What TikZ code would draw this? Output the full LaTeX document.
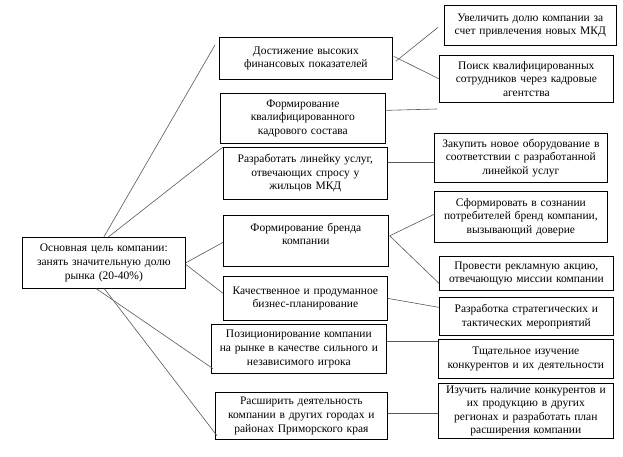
\documentclass[tikz,border=0pt]{standalone}
\usepackage{fontspec}
\setmainfont{Liberation Serif}
\usetikzlibrary{calc}
\tikzset{
  box/.style={draw=black, line width=0.7pt, rectangle, anchor=north west, inner xsep=2pt, inner ysep=0pt,
    align=center, font=\fontsize{11.5}{13.6}\selectfont},
  conn/.style={draw=black!65, line width=0.6pt}
}
\newcommand{\bx}[7]{\node[box, minimum width=#4pt, minimum height=#5pt, text width=#6pt] (#1) at (#2,#3) {#7};}
\begin{document}
\begin{tikzpicture}[x=1pt,y=-1pt]
\useasboundingbox[fill=white] (0,0) rectangle (623,456);
% main
\bx{M}{22}{237}{163}{51}{159}{Основная цель компании:\\занять значительную долю\\рынка (20-40\%)}
% middle column
\bx{B1}{219}{37}{173}{42}{169}{Достижение высоких\\финансовых показателей}
\bx{B2}{220}{93}{165}{50}{161}{Формирование\\квалифицированного\\кадрового состава}
\bx{B3}{223}{147}{164}{52}{160}{Разработать линейку услуг,\\отвечающих спросу у\\жильцов МКД}
\bx{B4}{223}{215}{165}{51}{161}{Формирование бренда\\компании\\~}
\bx{B5}{223}{276}{164}{44}{160}{Качественное и продуманное\\бизнес-планирование}
\bx{B6}{211}{324}{175}{49}{171}{Позиционирование компании\\на рынке в качестве сильного и\\независимого игрока}
\bx{B7}{215}{392}{172}{47}{168}{Расширить деятельность\\компании в других городах и\\районах Приморского края}
% right column
\bx{R1}{444}{5}{172}{40}{168}{Увеличить долю компании за\\счет привлечения новых МКД}
\bx{R2}{439}{55}{174}{47}{170}{Поиск квалифицированных\\сотрудников через кадровые\\агентства}
\bx{R3}{434}{133}{173}{49}{169}{Закупить новое оборудование в\\соответствии с разработанной\\линейкой услуг}
\bx{R4}{434}{191}{173}{51}{169}{Сформировать в сознании\\потребителей бренд компании,\\вызывающий доверие}
\bx{R5}{439}{256}{174}{34}{170}{Провести рекламную акцию,\\отвечающую миссии компании}
\bx{R6}{439}{297}{174}{38}{170}{Разработка стратегических и\\тактических мероприятий}
\bx{R7}{438}{339}{175}{39}{171}{Тщательное изучение\\конкурентов и их деятельности}
\bx{R8}{438}{383}{175}{55}{171}{Изучить наличие конкурентов и\\их продукцию в других\\регионах и разработать план\\расширения компании}
\coordinate (D2) at (437,109);
% left connectors
\draw[conn] (M.north) -- ($(B1.north west)+(-4,8)$);
\draw[conn] ($(M.north)+(4.5,0)$) -- (B3.north west);
\draw[conn] (M.east) -- ($(B4.west)+(0,1.5)$);
\draw[conn] ($(M.east)+(0,1.5)$) -- ($(B5.west)+(0,-5)$);
\draw[conn] ($(M.south)+(-7.5,0)$) -- ($(B6.south west)+(2,-5)$);
\draw[conn] ($(M.south)+(0.5,0)$) -- ($(B7.south west)+(2,-4)$);
% right connectors
\draw[conn] ($(B1.east)+(3,3)$) -- ($(R1.west)+(-6,2)$);
\draw[conn] ($(B1.east)+(1,-2)$) -- (R2.west);
\draw[conn] ($(B2.east)+(0,-8)$) -- (D2);
\draw[conn] (B3.east |- 0,162) -- (R3.west |- 0,162);
\draw[conn] ($(B4.east)+(1,-5)$) -- ($(R4.west)+(1,-3)$);
\draw[conn] ($(B4.east)+(1,-5)$) -- ($(R5.west)+(0,10)$);
\draw[conn] (B5.east) -- ($(R6.west)+(0,-9)$);
\draw[conn] (B6.east |- 0,341) -- (R7.west |- 0,341);
\draw[conn] (B7.east |- 0,413) -- (R8.west |- 0,413);
\end{tikzpicture}
\end{document}
